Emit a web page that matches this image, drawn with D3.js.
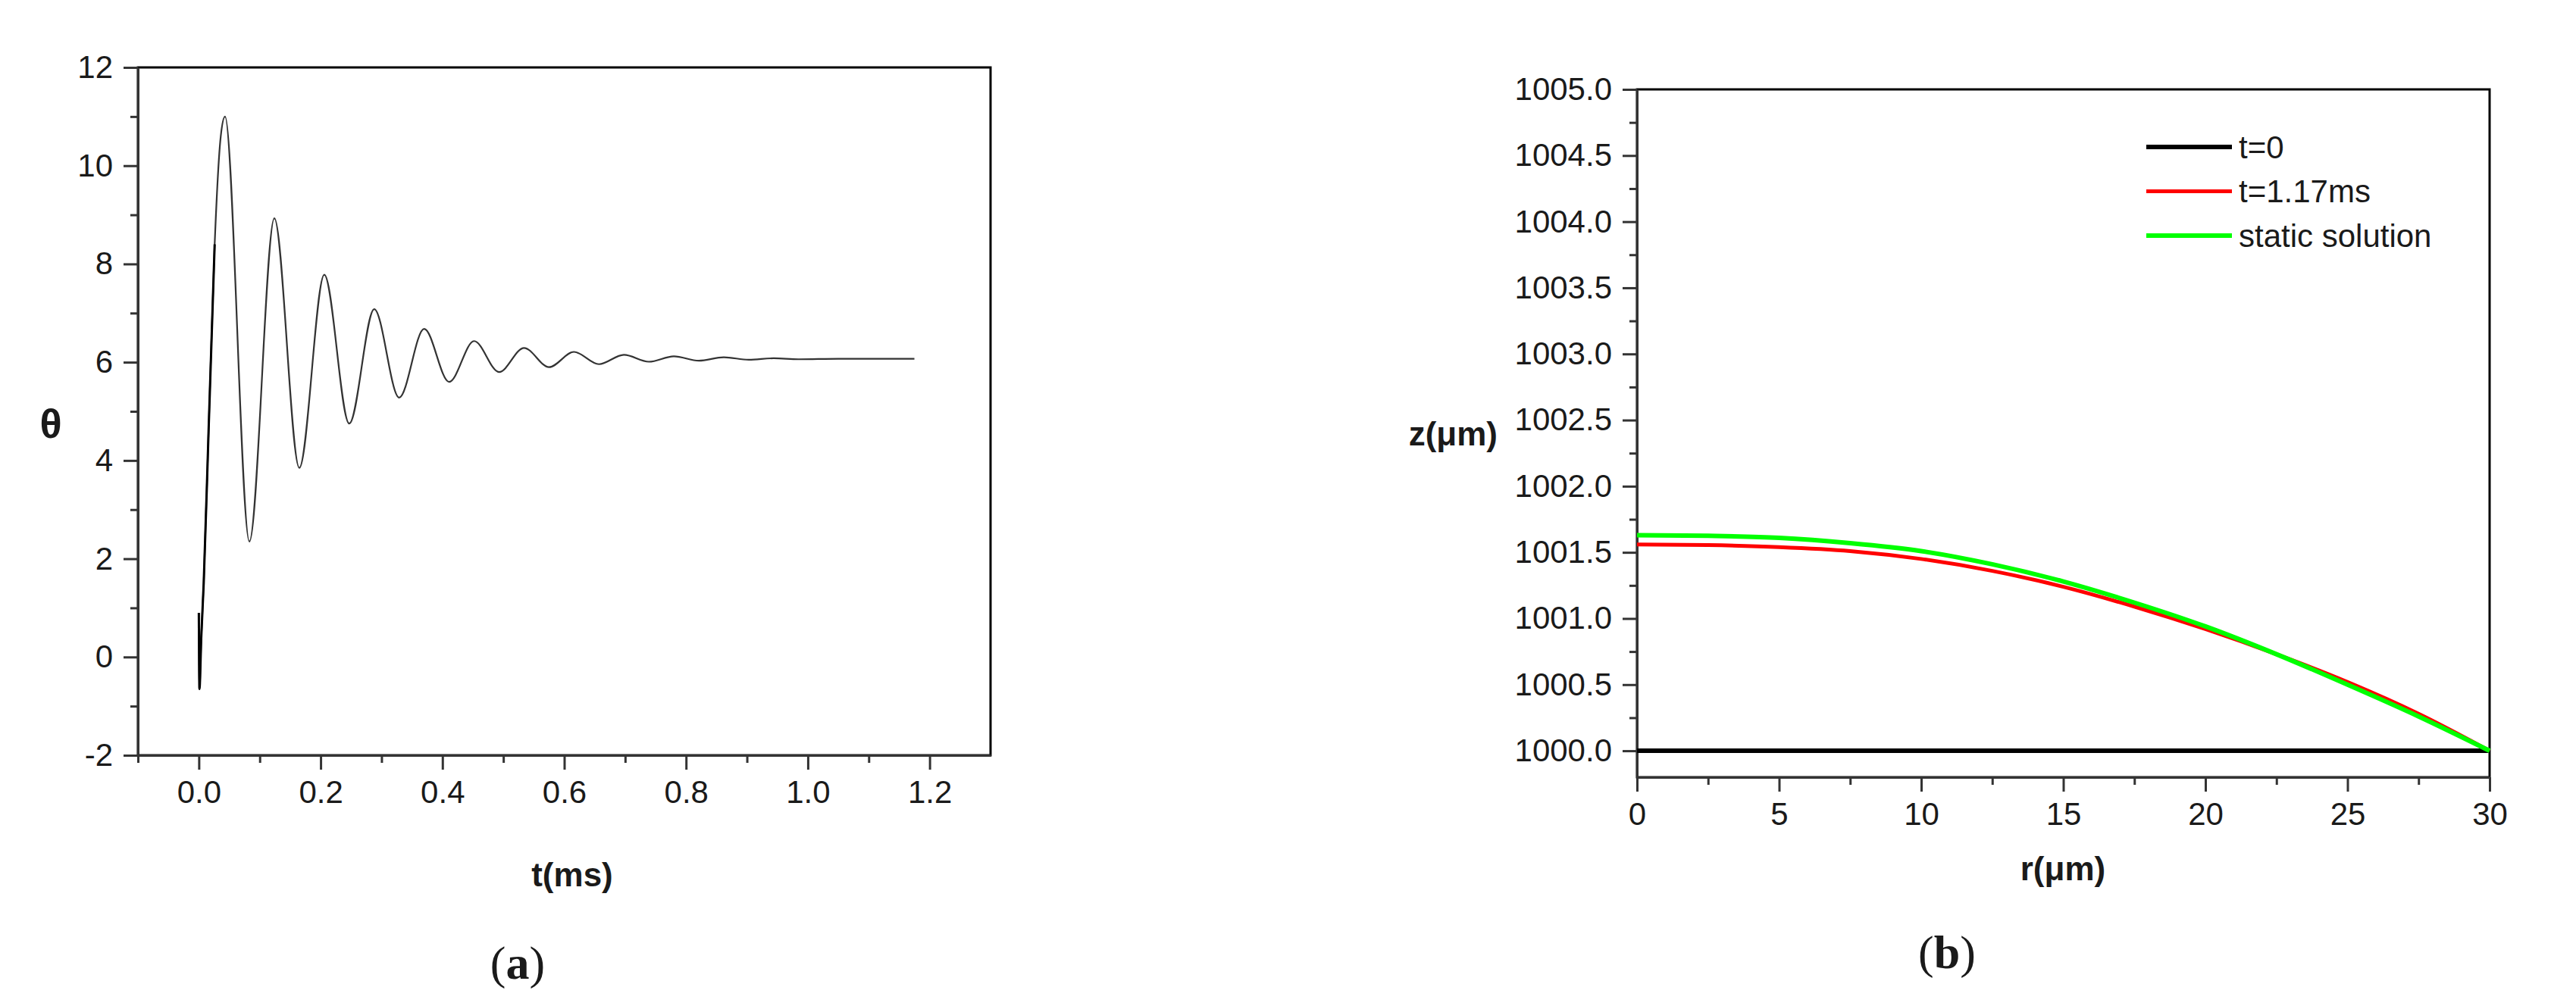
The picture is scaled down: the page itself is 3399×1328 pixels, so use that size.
<!DOCTYPE html>
<html>
<head>
<meta charset="utf-8">
<script src="https://cdn.jsdelivr.net/npm/d3@7"></script>
<style>
  html, body { margin: 0; padding: 0; background: #fff; }
  svg { display: block; }
  text { font-family: "Liberation Sans", Arial, sans-serif; fill: #1a1a1a; }
</style>
</head>
<body>
<svg id="fig" width="3399" height="1328"></svg>
<script>
// ── Panel (a): θ vs t at the peaks / troughs ────────────────────────────────
const T_MS  = [0.000, 0.001, 0.004, 0.008, 0.016, 0.026, 0.036, 0.043,
               0.083, 0.124, 0.165, 0.206, 0.247, 0.288, 0.329, 0.370,
               0.411, 0.452, 0.493, 0.534, 0.575, 0.616, 0.657, 0.698,
               0.739, 0.780, 0.821, 0.862, 0.903, 0.944, 0.985, 1.050, 1.175];
const THETA = [0.90, -0.65, 0.40, 1.50, 4.60, 8.40, 10.60, 11.00,
               2.35, 8.93, 3.85, 7.78, 4.75, 7.08, 5.28, 6.68,
               5.60, 6.43, 5.80, 6.29, 5.90, 6.21, 5.96, 6.15,
               6.01, 6.12, 6.03, 6.10, 6.05, 6.08, 6.06, 6.07, 6.07];

const A_X_TICKS  = [0.0, 0.2, 0.4, 0.6, 0.8, 1.0, 1.2];
const A_X_LABELS = ['0.0', '0.2', '0.4', '0.6', '0.8', '1.0', '1.2'];
const A_X_MINOR  = [-0.1, 0.1, 0.3, 0.5, 0.7, 0.9, 1.1];
const A_Y_TICKS  = [-2, 0, 2, 4, 6, 8, 10, 12];
const A_Y_LABELS = ['-2', '0', '2', '4', '6', '8', '10', '12'];
const A_Y_MINOR  = [-1, 1, 3, 5, 7, 9, 11];

// ── Panel (b): surface height z vs r ─────────────────────────────────────────
const R_UM     = [0, 2.5, 5, 7.5, 10, 12.5, 15, 17.5, 20, 22.5, 25, 27.5, 30];
const Z_T0     = [1000, 1000, 1000, 1000, 1000, 1000, 1000, 1000, 1000, 1000, 1000, 1000, 1000];
const Z_T117   = [1001.56, 1001.555, 1001.54, 1001.51, 1001.45, 1001.36, 1001.24,
                  1001.09, 1000.92, 1000.73, 1000.52, 1000.28, 1000.00];
const Z_STATIC = [1001.63, 1001.625, 1001.61, 1001.57, 1001.51, 1001.41, 1001.28,
                  1001.12, 1000.94, 1000.73, 1000.50, 1000.26, 1000.00];

const B_SERIES = [
  { name: 't=0',             values: Z_T0,     color: '#000000', width: 6 },
  { name: 't=1.17ms',        values: Z_T117,   color: '#ff0000', width: 5 },
  { name: 'static solution', values: Z_STATIC, color: '#00ff00', width: 6 },
];

const B_X_TICKS  = [0, 5, 10, 15, 20, 25, 30];
const B_X_MINOR  = [2.5, 7.5, 12.5, 17.5, 22.5, 27.5];
const B_Y_TICKS  = [1000, 1000.5, 1001, 1001.5, 1002, 1002.5, 1003, 1003.5, 1004, 1004.5, 1005];
const B_Y_MINOR  = [1000.25, 1000.75, 1001.25, 1001.75, 1002.25, 1002.75, 1003.25, 1003.75, 1004.25, 1004.75];

const svg = d3.select('#fig');

// ── Shared frame + axes ──────────────────────────────────────────────────────
function drawFrame(g, x, y, opt) {
  const [x0, x1] = x.range();
  const [y1, y0] = y.range();

  g.append('rect')
    .attr('x', x0).attr('y', y0)
    .attr('width', x1 - x0).attr('height', y1 - y0)
    .attr('fill', 'none')
    .attr('stroke', '#000')
    .attr('stroke-width', 3);

  const styleAxis = sel => {
    sel.selectAll('.domain').attr('stroke', '#333').attr('stroke-width', 3);
    sel.selectAll('.tick line').attr('stroke', '#333').attr('stroke-width', 3);
    sel.selectAll('.tick text')
      .attr('font-size', 42)
      .attr('font-family', '"Liberation Sans", Arial, sans-serif')
      .attr('fill', '#1a1a1a');
  };

  // minor ticks first, majors on top
  g.append('g')
    .attr('transform', `translate(0,${y1})`)
    .call(d3.axisBottom(x).tickValues(opt.xMinor).tickSize(10).tickSizeOuter(0).tickFormat(''))
    .call(styleAxis);
  g.append('g')
    .attr('transform', `translate(0,${y1})`)
    .call(d3.axisBottom(x).tickValues(opt.xTicks).tickSize(19).tickSizeOuter(0)
      .tickPadding(14).tickFormat((d, i) => opt.xLabels[i]))
    .call(styleAxis);

  g.append('g')
    .attr('transform', `translate(${x0},0)`)
    .call(d3.axisLeft(y).tickValues(opt.yMinor).tickSize(10).tickSizeOuter(0).tickFormat(''))
    .call(styleAxis);
  g.append('g')
    .attr('transform', `translate(${x0},0)`)
    .call(d3.axisLeft(y).tickValues(opt.yTicks).tickSize(19).tickSizeOuter(0)
      .tickPadding(14).tickFormat((d, i) => opt.yLabels[i]))
    .call(styleAxis);
}

// ── Panel (a) ─────────────────────────────────────────────────────────────────
const xA = d3.scaleLinear().domain([-0.1, 1.3]).range([182, 1307]);
const yA = d3.scaleLinear().domain([-2, 12]).range([997, 89]);
const gA = svg.append('g').attr('class', 'panel-a');

drawFrame(gA, xA, yA, {
  xTicks: A_X_TICKS, xLabels: A_X_LABELS, xMinor: A_X_MINOR,
  yTicks: A_Y_TICKS, yLabels: A_Y_LABELS, yMinor: A_Y_MINOR,
});

const lineA = d3.line()
  .x((d, i) => xA(T_MS[i]))
  .y(d => yA(d))
  .curve(d3.curveMonotoneX);

gA.append('path')
  .datum(THETA)
  .attr('d', lineA)
  .attr('fill', 'none')
  .attr('stroke', '#333')
  .attr('stroke-width', 2.2);

// the first spike is drawn darker in the original
gA.append('path')
  .datum(THETA.slice(0, 6))
  .attr('d', d => lineA.x((v, i) => xA(T_MS[i]))(d))
  .attr('fill', 'none')
  .attr('stroke', '#000')
  .attr('stroke-width', 3);

gA.append('text')
  .attr('x', 67).attr('y', 559)
  .attr('text-anchor', 'middle')
  .attr('dominant-baseline', 'central')
  .attr('font-size', 54)
  .attr('font-weight', 'bold')
  .text('θ');

gA.append('text')
  .attr('x', 755).attr('y', 1170)
  .attr('text-anchor', 'middle')
  .attr('font-size', 44)
  .attr('font-weight', 'bold')
  .text('t(ms)');

// ── Panel (b) ─────────────────────────────────────────────────────────────────
const xB = d3.scaleLinear().domain([0, 30]).range([2160, 3285]);
const yB = d3.scaleLinear().domain([999.8, 1005]).range([1026, 118]);
const gB = svg.append('g').attr('class', 'panel-b');

drawFrame(gB, xB, yB, {
  xTicks: B_X_TICKS, xLabels: B_X_TICKS.map(String), xMinor: B_X_MINOR,
  yTicks: B_Y_TICKS, yLabels: B_Y_TICKS.map(d => d.toFixed(1)), yMinor: B_Y_MINOR,
});

const lineB = d3.line()
  .x((d, i) => xB(R_UM[i]))
  .y(d => yB(d))
  .curve(d3.curveMonotoneX);

gB.append('g')
  .selectAll('path')
  .data(B_SERIES)
  .join('path')
    .attr('d',            d => lineB(d.values))
    .attr('fill',         'none')
    .attr('stroke',       d => d.color)
    .attr('stroke-width', d => d.width);

// legend
const legend = gB.append('g')
  .attr('transform', 'translate(2832,194)');
const rows = legend.selectAll('g')
  .data(B_SERIES)
  .join('g')
    .attr('transform', (d, i) => `translate(0,${i * 58.5})`);
rows.append('line')
  .attr('x1', 0).attr('x2', 113)
  .attr('stroke', d => d.color)
  .attr('stroke-width', d => d.width);
rows.append('text')
  .attr('x', 122)
  .attr('dominant-baseline', 'central')
  .attr('font-size', 42)
  .text(d => d.name);

gB.append('text')
  .attr('x', 1976).attr('y', 572)
  .attr('text-anchor', 'end')
  .attr('dominant-baseline', 'central')
  .attr('font-size', 44)
  .attr('font-weight', 'bold')
  .text('z(μm)');

gB.append('text')
  .attr('x', 2722).attr('y', 1162)
  .attr('text-anchor', 'middle')
  .attr('font-size', 44)
  .attr('font-weight', 'bold')
  .text('r(μm)');

// ── Sub-figure captions ──────────────────────────────────────────────────────
const captions = [
  { letter: 'a', x: 683 },
  { letter: 'b', x: 2569 },
];
const cap = svg.append('g').selectAll('text')
  .data(captions)
  .join('text')
    .attr('x', d => d.x)
    .attr('y', d => d.letter === 'a' ? 1292 : 1278)
    .attr('text-anchor', 'middle')
    .attr('font-size', 62)
    .style('font-family', '"Liberation Serif", "Times New Roman", serif');
cap.append('tspan').text('(');
cap.append('tspan').attr('font-weight', 'bold').text(d => d.letter);
cap.append('tspan').text(')');
</script>
</body>
</html>
